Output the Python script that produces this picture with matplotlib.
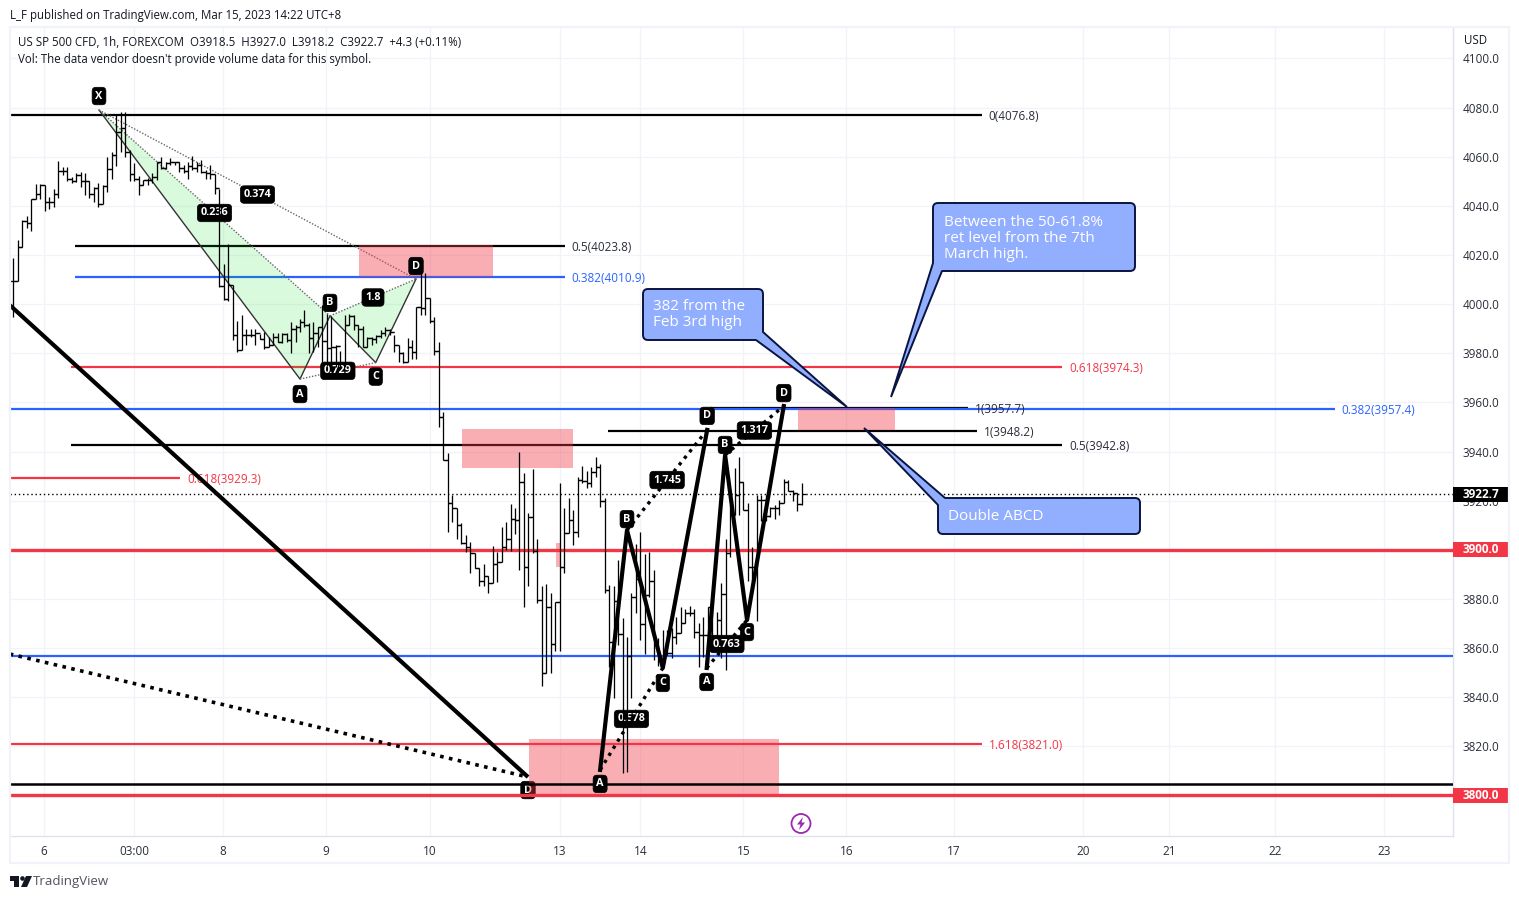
import matplotlib
matplotlib.use("Agg")
import matplotlib.pyplot as plt
from matplotlib.collections import LineCollection
from matplotlib.patches import Rectangle, FancyBboxPatch, Polygon, Circle
from matplotlib.transforms import Affine2D, blended_transform_factory

FONT = "Open Sans"
plt.rcParams["font.family"] = [FONT, "DejaVu Sans"]

closes = [4009.3,4023.1,4033.8,4033.2,4042.7,4045,4048.4,4041.6,4041.6,4045,4054.1,4054.1,4050.9,4050.2,4052.5,4050.1,4050.1,4045,4047.1,4040.6,
 4048,4055.2,4060.9,4069.9,4071.5,4062,4052.8,4051.1,4048.4,4050.5,4050.5,4051.8,4057.7,4055.5,4057.3,4057.7,4057.7,4055.5,4054.1,4056.3,
 4055.5,4056.8,4053.9,4053.2,4052.8,4047.1,4007.4,4002,4007.8,3987.5,3981.3,3987.5,3987.5,3987.5,3988.4,3986,3982.7,3983.4,3986.8,3984.7,
 3987.9,3985.4,3989.8,3990.8,3992.9,3991.5,3986.1,3988.1,3990.6,3985,3982,3982.7,3983,3976,3991.5,3995.2,3991.5,3989.8,3982.4,3986.1,
 3985.8,3987,3988.1,3989.5,3988.8,3983.4,3980.3,3976.6,3982.4,3980.7,3998.7,3998.3,4002.4,3993.3,3981.1,3953.9,3936.5,3918.9,3916.9,3910.1,
 3902.6,3901.3,3898.8,3892.4,3887.3,3889.3,3886.3,3894.2,3895.2,3901.3,3904.3,3912.4,3912.1,3927.5,3892.9,3913.5,3899.6,3879.6,3850,3876.6,
 3861.6,3878.9,3892.9,3906.7,3912.1,3907.4,3928.4,3928.1,3927,3931.8,3933.8,3920,3883.6,3862.6,3879.1,3865.7,3828,3856.8,3880.9,3888,
 3869.8,3881.6,3887.3,3861.6,3854.8,3858.1,3857.8,3864.3,3866.2,3870.3,3874.1,3874.1,3866.6,3865.3,3865.3,3876.8,3864,3871.4,3882,3898.5,
 3914.1,3922.3,3927.7,3916.2,3892.8,3892.8,3920.2,3920.2,3913.7,3917.2,3917.2,3919.2,3927.7,3924,3923.2,3918.6,3922.7]
highs = [4018.6,4026,4034.2,4036,4042.7,4048.8,4048.7,4048.4,4043.7,4046.8,4058.2,4055.9,4055.9,4051.8,4053.2,4053.9,4053.2,4050.1,4047.8,4049.1,
 4048.4,4060,4062,4076.9,4078,4078,4062.7,4057.3,4052.2,4050.5,4051.4,4053.2,4057.9,4060,4057.9,4059.3,4057.9,4057.7,4056.6,4057.9,
 4060.4,4057.9,4058.6,4054.5,4056.8,4052.8,4047,4016.2,4024.5,4007.8,3993.3,3995.6,3989.8,3989.8,3989.8,3988,3988.8,3986.8,3988.1,3988.1,
 3988.1,3988.4,3992.9,3991.5,3993.8,3997.6,3992.2,3992.9,3990.6,3999.6,3996,3995,3983.4,3981,3995.6,3995.9,3995.6,3991.5,3991.1,3986.5,
 3986.5,3987.5,3989.5,3990.6,3989.8,3987.5,3983.4,3980.7,3986.1,3985.4,3998.7,4014.6,4012.6,4002.4,3994.9,3984.7,3956.2,3939.3,3922.3,3916.9,
 3911,3906,3903.3,3898.8,3892.4,3894.2,3889.3,3901.5,3899.2,3909.4,3911.4,3918.6,3916.9,3940,3931.1,3915.1,3932.7,3904.3,3885.3,3886.1,
 3882.5,3878.9,3927,3916.9,3920.9,3916.2,3929.5,3934.1,3932.2,3933.8,3937.6,3934.9,3921,3885.6,3885.2,3895.8,3872.1,3864.6,3882.5,3902.3,
 3907.1,3898.3,3899.2,3891.7,3864,3867.3,3867.3,3868,3872.7,3876.8,3875.7,3877.1,3876.1,3870,3872.7,3876.8,3876.6,3874.8,3886.3,3904.2,
 3918.2,3933.1,3937.6,3927.7,3918.9,3901.2,3922.3,3922.3,3922.3,3917.5,3918.2,3920.2,3929,3928.4,3924.3,3923.2,3927]
lows = [3994.8,4009.5,4023.1,4031.1,4029.7,4042.7,4042.7,4037.8,4038.9,4039.6,4043,4052.5,4050.1,4049.5,4049.8,4047.8,4044.4,4043,4041.6,4039.6,
 4040.6,4045.7,4050.9,4056.3,4062,4060,4050.1,4050.1,4044.6,4048.4,4048.4,4049.5,4050.5,4055.2,4055.2,4056.6,4056.6,4053.9,4053.2,4050.9,
 4054.5,4053.9,4053.2,4051.1,4051.1,4045,4007,4001.7,4001.4,3985.4,3980.7,3981.3,3983.4,3986.8,3983.4,3986,3981.6,3982.7,3983.4,3984.7,
 3984.1,3984.7,3980,3984.7,3988.8,3990.8,3980,3980.7,3982.7,3973,3975,3974.6,3974.6,3974.6,3974.6,3991.5,3989.5,3982.7,3982.4,3982.4,
 3983.4,3984.1,3986.1,3987,3987.5,3980.7,3976.6,3976,3976.6,3977.5,3977.5,3995.6,3995.6,3992.2,3979.3,3950.1,3936.5,3907.4,3911.4,3904.3,
 3902.4,3899.2,3890.7,3892.4,3885.4,3885.4,3882.5,3886.6,3887,3895.2,3899.9,3899.6,3906.4,3891.8,3876.8,3885.3,3898.6,3878.5,3844.5,3849.7,
 3850,3858.9,3858.9,3890.7,3906.7,3902,3905.3,3927,3925,3925.7,3929.8,3917.5,3882.5,3852.4,3839.5,3861.2,3809,3809.6,3839.5,3874.4,
 3863.2,3857.6,3880.9,3855.1,3852.7,3853.1,3857.2,3855.8,3861.6,3866.2,3870.3,3873,3863.9,3852.4,3856.5,3853.8,3863.3,3864,3855.8,3851,
 3897.2,3914.1,3914.1,3916.2,3887.4,3887.4,3871.1,3911.8,3911.8,3913.5,3912.4,3914.1,3919.2,3924,3920,3915.9,3918.2]
opens = [closes[0]] + closes[:-1]
bar_index = list(range(len(closes)))

price_ticks = [3800 + 20 * i for i in range(16)]
time_ticks = [6.85, 27, 46.8, 69.8, 93, 122, 140, 163, 186, 210, 238.8, 258, 281.6, 306]
time_labels = ["6", "03:00", "8", "9", "10", "13", "14", "15", "16", "17", "20", "21", "22", "23"]

# horizontal levels: price, start bar, end bar, colour, width, label
levels = [
    (4076.8, -0.8, 216.2, "black", 1.6, "0(4076.8)"),
    (4023.8, 13.8, 123.1, "black", 1.6, "0.5(4023.8)"),
    (4010.9, 13.8, 123.1, "#2962ff", 1.6, "0.382(4010.9)"),
    (3974.3, 12.9, 234.1, "#f23645", 1.6, "0.618(3974.3)"),
    (3957.7, 155.7, 213.1, "black", 1.6, "1(3957.7)"),
    (3957.4, -0.8, 295.0, "#2962ff", 1.6, "0.382(3957.4)"),
    (3948.2, 132.7, 215.1, "black", 1.6, "1(3948.2)"),
    (3942.8, 12.9, 234.1, "black", 1.6, "0.5(3942.8)"),
    (3929.3, -0.8, 37.2, "#f23645", 1.6, "0.618(3929.3)"),
    (3821.0, -0.8, 216.2, "#f23645", 1.6, "1.618(3821.0)"),
]
full_lines = [(3856.9, "#2962ff", 1.6), (3900.0, "#f23645", 2.4), (3804.7, "black", 1.8), (3800.0, "#f23645", 2.4)]

# supply/demand boxes: start bar, end bar, low price, high price
boxes = [(77.2, 107.1, 4011, 4024), (100.2, 124.9, 3933.3, 3949.2), (121.1, 122.1, 3893, 3902.8),
         (115.1, 170.9, 3800, 3823), (175.2, 196.8, 3948.8, 3957.7)]

# pivots as (bar, price)
harm = dict(X=(19.13, 4079.0), A=(64.0, 3969.5), B=(70.7, 3995.2), C=(80.9, 3976.2), D=(89.9, 4010.2))
abcd1 = dict(A=(131.0, 3810.4), B=(137.0, 3908.0), C=(145.0, 3851.9), D=(154.9, 3948.8))
abcd2 = dict(A=(154.8, 3851.9), B=(158.9, 3938.6), C=(163.8, 3871.4), D=(172.0, 3958.5))
xabcd_tail = [(-0.8, 3999.6), (114.9, 3807.5), (-0.8, 3857.6)]

W, H = 1519, 899
fig = plt.figure(figsize=(W / 100, H / 100), dpi=100, facecolor="white")
L, R, T, B = 10, 1453, 27, 836
ax = fig.add_axes([L / W, 1 - B / H, (R - L) / W, (B - T) / H])
ax.set_xlim(-0.74, 321.4)
ax.set_ylim(3783.5, 4112.8)
px = Affine2D().scale(1, -1).translate(0, H)   # figure pixels, y down

TXT = "#131722"
GRID = "#f0f3fa"
FS = 8.45
FS_HEAD = 8.3
ax.set_xticks(time_ticks, time_labels)
ax.set_yticks(price_ticks, [f"{p:.1f}" for p in price_ticks])
ax.yaxis.tick_right()
ax.tick_params(axis="both", length=0, labelsize=FS, labelcolor="#2a2e39")
ax.tick_params(axis="y", pad=7.0)
ax.tick_params(axis="x", pad=6.2)
ax.grid(True, color=GRID, lw=0.9)
ax.set_axisbelow(True)
for s in ("top", "left"):
    ax.spines[s].set_visible(False)
for s in ("right", "bottom"):
    ax.spines[s].set_color("#e0e3eb")
    ax.spines[s].set_linewidth(1.0)

# outer frame
xs, ys = zip(*[(10, 27), (1509, 27), (1509, 863), (10, 863), (10, 27)])
fig.add_artist(plt.Line2D(xs, ys, color="#f0f3fa", lw=1.6, transform=px))

# boxes
for x0, x1, p0, p1 in boxes:
    ax.add_patch(Rectangle((x0, p0), x1 - x0, p1 - p0, fc="#f23645", ec="none", alpha=0.4, zorder=2.5))

# level lines
for p, x0, x1, col, lw, lab in levels:
    ax.plot([x0, x1], [p, p], color=col, lw=lw, zorder=2, solid_capstyle="butt")
    ax.annotate(lab, (x1, p), xytext=(5, 0), textcoords="offset points", color=col if col != "black" else "#2a2e39",
                fontsize=FS, va="center_baseline", ha="left", zorder=2.2)
for p, col, lw in full_lines:
    ax.axhline(p, color=col, lw=lw, zorder=2.7 if col == "black" else 2.8)
ax.axhline(closes[-1], color="black", lw=1.0, ls=(0, (1, 2)), zorder=2)


def tag(pt, txt, dy=0.0, z=3.0, w=0.3):
    ax.annotate(txt, pt, xytext=(0, dy), textcoords="offset pixels", ha="center", va="center",
                color="white", fontsize=7.8, fontweight="bold", zorder=z,
                bbox=dict(boxstyle=f"round,pad={w},rounding_size=0.35", fc="black", ec="black", lw=0.5))


def mid(a, b):
    return ((a[0] + b[0]) / 2, (a[1] + b[1]) / 2)


# harmonic pattern (below the bars)
for tri in (("X", "A", "B"), ("B", "C", "D")):
    ax.add_patch(Polygon([harm[k] for k in tri], closed=True, fc="#00e01a", alpha=0.15, ec="none", zorder=2.1))
hp = [harm[k] for k in "XABCD"]
ax.plot(*zip(*hp), color="#333333", lw=1.0, zorder=2.3)
for a, b, r in (("X", "B", "0.236"), ("X", "D", "0.374"), ("A", "C", "0.729"), ("B", "D", "1.8")):
    ax.plot(*zip(harm[a], harm[b]), color="#666666", lw=1.0, ls=(0, (1, 1.2)), zorder=2.3)
    tag(mid(harm[a], harm[b]), r, z=3.0)

# bars
verts = [[(i, l), (i, h)] for i, l, h in zip(bar_index, lows, highs)]
verts += [[(i - 0.9, o), (i, o)] for i, o in zip(bar_index, opens)]
verts += [[(i, c), (i + 0.9, c)] for i, c in zip(bar_index, closes)]
ax.add_collection(LineCollection(verts, colors="black", linewidths=0.92, zorder=4, capstyle="butt"))

# big XABCD tail lines
ax.plot(*zip(*xabcd_tail[:2]), color="black", lw=3.0, zorder=5, solid_capstyle="butt")
ax.plot(*zip(xabcd_tail[2], xabcd_tail[1]), color="black", lw=2.6, ls=(0, (1, 1.5)), zorder=5)

# ABCD patterns
for pat, ratios, tz in ((abcd1, ("0.578", "1.745"), 3.5), (abcd2, ("0.763", "1.317"), 6)):
    ax.plot(*zip(*[pat[k] for k in "ABCD"]), color="black", lw=3.0, zorder=5, solid_joinstyle="round")
    for (a, b), r in zip((("A", "C"), ("B", "D")), ratios):
        ax.plot(*zip(pat[a], pat[b]), color="black", lw=2.4, ls=(0, (1, 1.5)), zorder=5)
        tag(mid(pat[a], pat[b]), r, z=tz)

# letter tags
for pat, offs in ((harm, dict(X=14, A=-15, B=13, C=-14, D=13)),
                  (abcd1, dict(A=-14, B=11, C=-15, D=14)),
                  (abcd2, dict(A=-14, B=10, C=-12, D=13))):
    for k, dy in offs.items():
        tag(pat[k], k, dy=dy, z=6)
tag(xabcd_tail[1], "D", dy=-13, z=2.4)

# callouts
FILL, EDGE = "#92aeff", "#0a1440"
callouts = [
    ((933, 203, 202, 68), [(933, 263), (891, 397), (942, 271)], ["Between the 50-61.8%", "ret level from the 7th", "March high."], (944, 222.5)),
    ((643, 289, 120, 51), [(756, 340), (847, 407), (763, 332)], ["382 from the", "Feb 3rd high"], (653, 307)),
    ((938, 498, 202, 36), [(938, 505), (864, 428), (945, 498)], ["Double ABCD"], (948, 517)),
]
for (x, y, w, h), tail, lines, (tx, ty) in callouts:
    fig.add_artist(FancyBboxPatch((x + 4, y + 4), w - 8, h - 8, boxstyle="round,pad=4,rounding_size=5", fc=FILL, ec=EDGE,
                                  lw=1.4, transform=px, zorder=7))
    fig.add_artist(Polygon(tail, closed=False, fc=FILL, ec=EDGE, lw=1.4, transform=px, zorder=7.1))
    for i, s in enumerate(lines):
        fig.text(tx, ty + 16 * i, s, color="white", fontsize=11.0, va="center", ha="left", transform=px, zorder=8)

# price-axis tags
yt = blended_transform_factory(fig.transFigure, ax.transData)
for p, col in ((closes[-1], "black"), (3900.0, "#f23645"), (3800.0, "#f23645")):
    ax.add_patch(Rectangle((R / W, p - 3.05), (1509 - R) / W, 6.1, transform=yt, fc=col, ec="none", clip_on=False, zorder=9))
    ax.text(1481 / W, p, f"{p:.1f}", transform=yt, color="white", fontsize=FS, fontweight="bold",
            ha="center", va="center", zorder=10, clip_on=False)

# header and footer text
fig.text(10, 15, "L_F published on TradingView.com, Mar 15, 2023 14:22 UTC+8", color=TXT, fontsize=FS_HEAD, va="center", transform=px)
fig.text(18, 42.2, "US SP 500 CFD, 1h, FOREXCOM  O3918.5  H3927.0  L3918.2  C3922.7  +4.3 (+0.11%)", color=TXT, fontsize=FS_HEAD, va="center", transform=px)
fig.text(18, 59.5, "Vol: The data vendor doesn't provide volume data for this symbol.", color=TXT, fontsize=FS_HEAD, va="center", transform=px)
fig.text(1464, 41, "USD", color=TXT, fontsize=FS_HEAD, va="center", transform=px)
fig.text(33, 881.5, "TradingView", color="#50535e", fontsize=9.5, va="center", transform=px)

# logo
fig.add_artist(Polygon([(10, 876), (19, 876), (19, 887), (14, 887), (14, 881), (10, 881)], fc="#131722", ec="none", transform=px))
fig.add_artist(Circle((22.5, 878.5), 2.3, fc="#131722", ec="none", transform=px))
fig.add_artist(Polygon([(26, 876), (32, 876), (27, 887), (21, 887)], fc="#131722", ec="none", transform=px))

# event marker
fig.add_artist(Circle((801, 823.5), 9.5, fc="white", ec="#9c27b0", lw=1.3, transform=px, zorder=7))
fig.add_artist(Polygon([(803, 817), (797, 824.5), (800.5, 824.5), (799, 830), (805, 822.5), (801.5, 822.5)],
                       fc="#9c27b0", ec="none", transform=px, zorder=7.1))

fig.savefig("out.png", dpi=100)
